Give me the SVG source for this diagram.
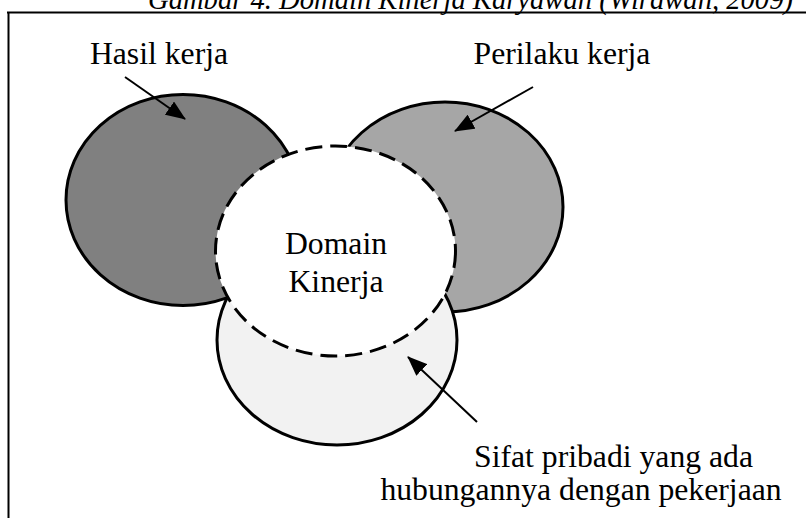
<svg xmlns="http://www.w3.org/2000/svg" width="806" height="518" viewBox="0 0 806 518">
<style>
.t{font-family:"Liberation Serif","Times New Roman",serif;font-size:31.7px;fill:#000}
.e{stroke:#000;stroke-width:3}
.a{stroke:#000;stroke-width:2;fill:none}
</style>
<defs>
<marker id="ah2" viewBox="0 0 20 16" refX="19" refY="8" markerWidth="20" markerHeight="16" orient="auto" markerUnits="userSpaceOnUse">
<path d="M0,0 L20,8 L0,16 Z" fill="#000"/>
</marker>
</defs>
<rect width="806" height="518" fill="#fff"/>
<text x="148" y="9" style="font-family:'Liberation Serif','Times New Roman',serif;font-size:28.6px;font-style:italic">Gambar 4. Domain Kinerja Karyawan (Wirawan, 2009)</text>
<g id="frame">
<line x1="7" y1="12.5" x2="806" y2="12.5" stroke="#000" stroke-width="2"/>
<line x1="8.5" y1="12" x2="8.5" y2="518" stroke="#000" stroke-width="2"/>
</g>
<g id="perilaku">
<ellipse class="e" cx="445" cy="207" rx="118" ry="105" fill="#a6a6a6"/>
</g>
<g id="hasil">
<ellipse class="e" cx="183" cy="200" rx="117" ry="105.5" fill="#808080"/>
</g>
<g id="sifat">
<ellipse class="e" cx="337" cy="340" rx="120" ry="105" fill="#f2f2f2"/>
</g>
<g id="domain">
<ellipse cx="335.5" cy="251" rx="120" ry="105" fill="#fff" stroke="#000" stroke-width="3" stroke-dasharray="17 8"/>
<text class="t" x="336" y="254" text-anchor="middle">Domain</text>
<text class="t" x="336" y="292" text-anchor="middle">Kinerja</text>
</g>
<g id="labels">
<text class="t" x="159" y="64" text-anchor="middle">Hasil kerja</text>
<text class="t" x="562" y="64" text-anchor="middle">Perilaku kerja</text>
<text class="t" x="613.5" y="467" text-anchor="middle">Sifat pribadi yang ada</text>
<text class="t" x="581" y="500" text-anchor="middle">hubungannya dengan pekerjaan</text>
</g>
<g id="connectors">
<line class="a" x1="125" y1="77" x2="185" y2="119" marker-end="url(#ah2)"/>
<line class="a" x1="533" y1="87" x2="455" y2="131" marker-end="url(#ah2)"/>
<line class="a" x1="477" y1="422" x2="408" y2="357" marker-end="url(#ah2)"/>
</g>
</svg>
